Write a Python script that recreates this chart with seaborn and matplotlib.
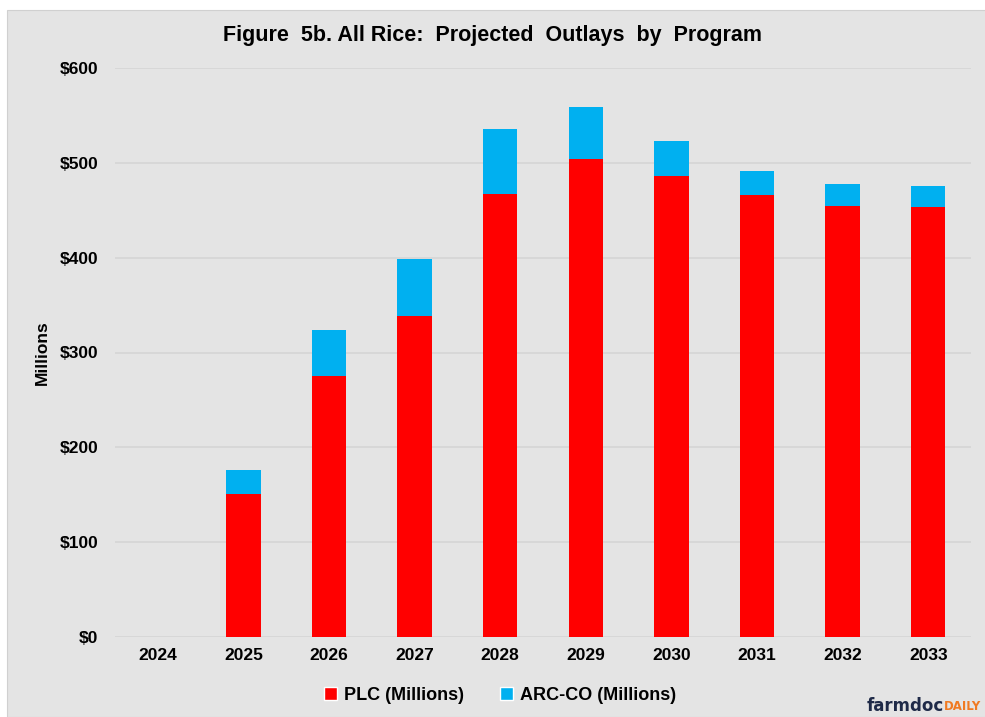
import numpy as np
import pandas as pd
import matplotlib
matplotlib.use("Agg")
import matplotlib.pyplot as plt
import seaborn as sns
from matplotlib.patches import Rectangle, Patch

years = ["2024", "2025", "2026", "2027", "2028", "2029", "2030", "2031", "2032", "2033"]
plc = [0, 151, 275, 339, 467, 504, 486, 466, 454, 453]
arc_co = [0, 25, 49, 60, 69, 55, 37, 25, 24, 23]

df = pd.DataFrame({"year": years, "plc": plc, "arc": arc_co})
df["total"] = df["plc"] + df["arc"]

bg = "#e4e4e4"
red = "#ff0000"
blue = "#00b0f0"

sns.set_style("white")
plt.rcParams["font.family"] = ["Liberation Sans", "DejaVu Sans"]
plt.rcParams["text.color"] = "black"

fig = plt.figure(figsize=(9.85, 7.17), dpi=100, facecolor="white")
# gray panel, leaves a thin white strip at top and left like the original
fig.patches.append(Rectangle((7 / 985, 0), 1, 1 - 10 / 717, transform=fig.transFigure,
                             facecolor=bg, edgecolor="#d0d0d0", lw=0.8, zorder=-5))

ax = fig.add_axes([115 / 985, 1 - 637 / 717, (971 - 115) / 985, (637 - 68) / 717])
ax.set_facecolor(bg)

# stacked look: total in blue behind, PLC in red on top
sns.barplot(data=df, x="year", y="total", color=blue, width=0.4, ax=ax,
            saturation=1, linewidth=0, zorder=3)
sns.barplot(data=df, x="year", y="plc", color=red, width=0.4, ax=ax,
            saturation=1, linewidth=0, zorder=4)

ax.set_ylim(0, 600)
ax.set_yticks(np.arange(0, 601, 100))
ax.set_yticklabels([f"${v}" for v in range(0, 601, 100)])
ax.yaxis.grid(True, color="#d5d5d5", lw=1.2, zorder=0)
ax.set_axisbelow(True)
for s in ax.spines.values():
    s.set_visible(False)
ax.tick_params(axis="both", length=0, labelsize=12.5, colors="black")
ax.tick_params(axis="y", pad=12)
ax.tick_params(axis="x", pad=8)
for lbl in ax.get_xticklabels() + ax.get_yticklabels():
    lbl.set_fontweight("bold")

ax.set_xlabel("")
ax.set_ylabel("Millions", fontsize=12.5, fontweight="bold", labelpad=7, color="black")

fig.text(0.5, 1 - 36 / 717, "Figure  5b. All Rice:  Projected  Outlays  by  Program",
         ha="center", va="center", fontsize=15.5, fontweight="bold", color="black")

handles = [Patch(facecolor=red, label="PLC (Millions)"),
           Patch(facecolor=blue, label="ARC-CO (Millions)")]
leg = fig.legend(handles=handles, loc="center", bbox_to_anchor=(500 / 985, 1 - 695 / 717),
                 ncol=2, frameon=False, handlelength=0.7, handleheight=0.7,
                 handletextpad=0.4, columnspacing=2.0, prop={"weight": "bold", "size": 13})
for t in leg.get_texts():
    t.set_color("black")

t1 = fig.text(867 / 985, 1 - 706 / 717, "farmdoc", ha="left", va="center",
              fontsize=12, fontweight="bold", color="#1f2a48", family="DejaVu Sans")
fig.canvas.draw()
bb = t1.get_window_extent()
fig.text(bb.x1 / fig.bbox.width, 1 - 707 / 717, "DAILY", ha="left", va="center",
         fontsize=8.5, fontweight="bold", color="#f07a22", family="DejaVu Sans")

fig.savefig("out.png", dpi=100, facecolor=fig.get_facecolor())
